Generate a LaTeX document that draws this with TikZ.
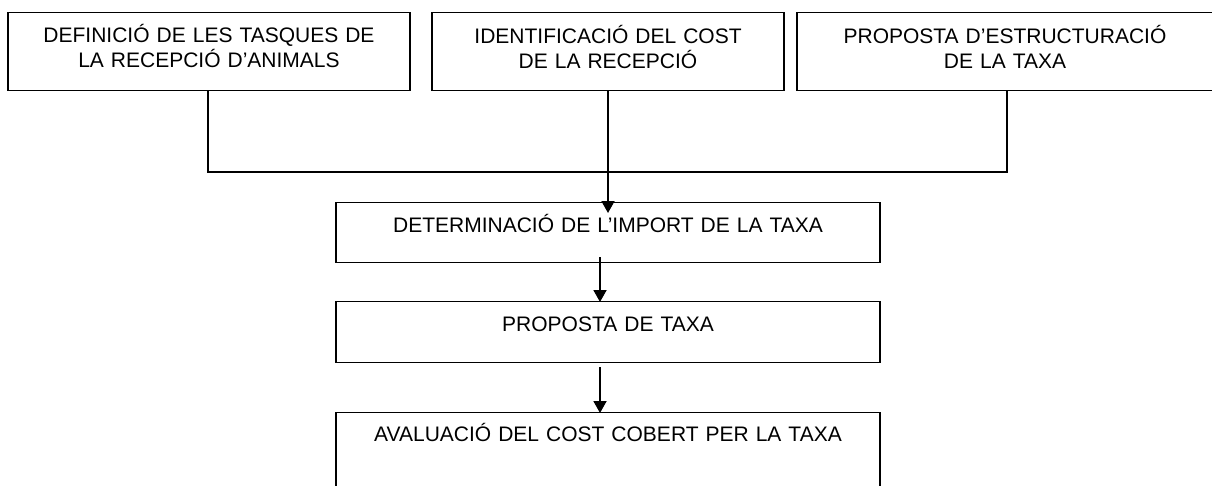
\documentclass[tikz,border=0pt]{standalone}
\usepackage{fontspec}
\setmainfont{Liberation Sans}
\usetikzlibrary{arrows.meta}

\tikzset{
  taskbox/.style={draw, line width=1.3pt, inner sep=0pt, align=center, anchor=north,
    font=\fontsize{21}{25}\selectfont},
  conn/.style={line width=1.8pt},
  arrowconn/.style={line width=1.8pt, -{Triangle[width=13pt,length=12pt]}}
}

\begin{document}
\begin{tikzpicture}[x=1pt,y=1pt,yscale=-1]
\useasboundingbox (0,0) rectangle (1212,485);

% Top row
\node[taskbox, text width=402pt, text height=30pt, text depth=48pt] (tasques) at (209,12)
  {DEFINICIÓ DE LES TASQUES DE\\LA RECEPCIÓ D’ANIMALS};
\node[taskbox, text width=352pt, text height=31pt, text depth=47pt] (cost) at (608,12)
  {IDENTIFICACIÓ DEL COST\\DE LA RECEPCIÓ};
\node[taskbox, text width=416pt, text height=31pt, text depth=47pt] (estructura) at (1005,12)
  {PROPOSTA D’ESTRUCTURACIÓ\\DE LA TAXA};

% Column of steps
\node[taskbox, text width=544pt, text height=30pt, text depth=30pt] (import) at (608,202)
  {DETERMINACIÓ DE L’IMPORT DE LA TAXA};
\node[taskbox, text width=544pt, text height=30pt, text depth=31pt] (proposta) at (608,301)
  {PROPOSTA DE TAXA};
\node[taskbox, text width=544pt, text height=29pt, text depth=59pt] (avaluacio) at (608,412)
  {AVALUACIÓ DEL COST COBERT PER LA TAXA};

% Joining line
\coordinate (junt) at (1007,172);
\draw[conn] ([xshift=-1pt]tasques.south) |- (junt) -- (junt |- estructura.south);

% Arrows (yscale=-1 also turns the shifts round)
\draw[arrowconn] (cost.south) -- ([yshift=11pt]import.north);
\draw[arrowconn] ([xshift=-8pt,yshift=-6pt]import.south) -- ([xshift=-8pt,yshift=1pt]proposta.north);
\draw[arrowconn] ([xshift=-8pt,yshift=4pt]proposta.south) -- ([xshift=-8pt,yshift=1pt]avaluacio.north);

\end{tikzpicture}
\end{document}
